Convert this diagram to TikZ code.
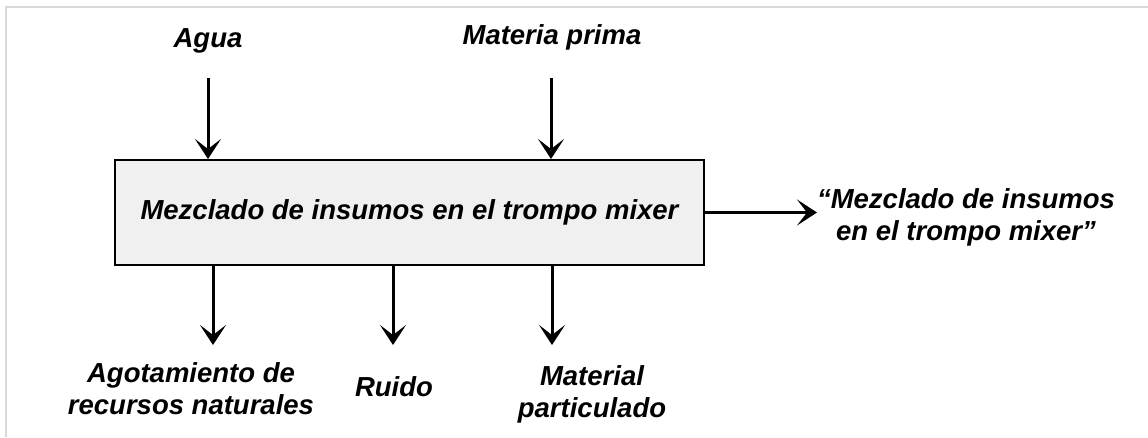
\documentclass[tikz,border=0pt]{standalone}
\usepackage{fontspec}
\setmainfont{Liberation Sans}
\usetikzlibrary{arrows.meta,positioning}

\begin{document}
\begin{tikzpicture}[x=1pt,y=-1pt,
    flecha/.style={-{Stealth[length=20pt,width=26pt,inset=10pt]}, line width=3pt},
    etiqueta/.style={font=\fontsize{27.5}{32}\selectfont\bfseries\itshape, align=center, inner sep=0pt},
    proceso/.style={draw=black, line width=2pt, fill=black!6, minimum width=589pt, minimum height=105pt}]

    \useasboundingbox (0,0) rectangle (1148,437);

    % draw frame lines
    \draw[black!15, line width=2.5pt] (6,437) -- (6,7) -- (1148,7);

    % draw process box
    \node[etiqueta, proceso] (mezcla) at (409.5,212.5) {Mezclado de insumos en el trompo mixer};

    % draw inputs
    \node[etiqueta, anchor=north] (agua) at (208,28) {Agua};
    \node[etiqueta, anchor=north] (materia) at (552,24) {Materia prima};
    \coordinate (aguaIn) at (208,78);
    \coordinate (materiaIn) at (551,78);
    \draw[flecha] (aguaIn) -- (aguaIn |- mezcla.north);
    \draw[flecha] (materiaIn) -- (materiaIn |- mezcla.north);

    % draw output
    \coordinate (salida) at (817,212.5);
    \draw[flecha] (mezcla.east) -- (salida);
    \node[etiqueta, anchor=north] (producto) at (966,188) {“Mezclado de insumos\\en el trompo mixer”};

    % draw aspects
    \foreach \x/\n in {213/agot, 393/ruido, 552/mat}
        \coordinate (\n Out) at (\x,345);
    \foreach \n in {agot, ruido, mat}
        \draw[flecha] (\n Out |- mezcla.south) -- (\n Out);

    \node[etiqueta, anchor=north] (agotamiento) at (191,362) {Agotamiento de\\recursos naturales};
    \node[etiqueta, anchor=north] (ruidoTxt) at (394,376) {Ruido};
    \node[etiqueta, anchor=north] (material) at (592,365) {Material\\particulado};

\end{tikzpicture}
\end{document}
